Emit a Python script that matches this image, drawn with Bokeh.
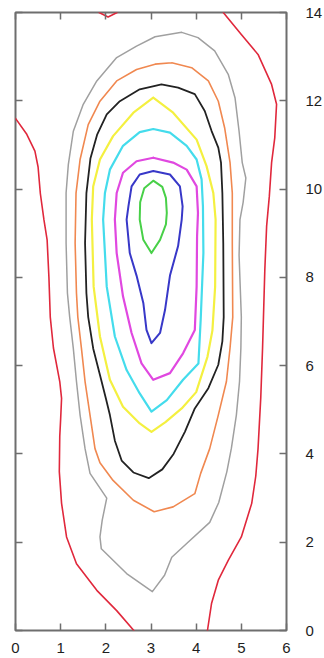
from bokeh.plotting import figure
from bokeh.models import LinearAxis, FixedTicker, Range1d
from bokeh.embed import file_html
from bokeh.resources import INLINE

# ---- axis ticks ----
x_ticks = [0, 1, 2, 3, 4, 5, 6]
y_ticks = [0, 2, 4, 6, 8, 10, 12, 14]

# ---- contour lines (data coordinates) ----
red_top_x = [1.85, 2.05, 2.25]
red_top_y = [14.0, 13.9, 14.0]

red_left_x = [0.0, 0.25, 0.43, 0.5, 0.55, 0.63, 0.7, 0.74, 0.77, 0.84, 0.98, 1.02, 1.0, 0.98,
              0.97, 1.02, 1.13, 1.35, 1.8, 2.24, 2.62]
red_left_y = [11.6, 11.24, 10.86, 10.5, 9.9, 9.3, 8.85, 8.0, 7.1, 6.4, 5.64, 5.26, 4.8, 4.4,
              3.6, 2.88, 2.12, 1.51, 0.91, 0.45, 0.0]

red_right_x = [4.6, 5.0, 5.37, 5.67, 5.78, 5.74, 5.67, 5.62, 5.56, 5.52, 5.49, 5.47, 5.43,
               5.37, 5.32, 5.23, 5.0, 4.71, 4.49, 4.34, 4.25]
red_right_y = [14.0, 13.5, 13.05, 12.37, 11.92, 11.16, 10.6, 9.84, 9.16, 8.17, 7.1, 6.4, 5.27,
               4.12, 3.5, 2.88, 2.12, 1.59, 1.14, 0.61, 0.0]

gray_x = [3.68, 4.04, 4.41, 4.71, 4.86, 4.95, 5.02, 5.1, 5.04, 4.97, 4.95, 5.0, 4.99, 4.96,
          4.89, 4.78, 4.68, 4.5, 4.3, 3.79, 3.46, 3.3, 3.03, 2.46, 1.9, 1.87, 1.92, 2.02,
          1.65, 1.54, 1.43, 1.35, 1.28, 1.2, 1.15, 1.12, 1.12, 1.17, 1.28, 1.5, 1.8, 2.24,
          2.68, 3.09, 3.68]
gray_y = [13.55, 13.43, 13.13, 12.6, 12.07, 11.31, 10.6, 10.25, 9.7, 9.31, 8.5, 7.1, 6.4, 5.64,
          4.88, 4.13, 3.6, 2.9, 2.45, 1.97, 1.66, 1.25, 0.88, 1.29, 1.85, 2.12, 2.5, 3.0,
          3.56, 4.12, 4.88, 5.64, 6.39, 7.1, 7.64, 8.78, 9.91, 10.56, 11.31, 11.92, 12.45, 12.98,
          13.24, 13.45, 13.55]

orange_x = [3.46, 3.9, 4.27, 4.49, 4.63, 4.75, 4.8, 4.8, 4.81, 4.75, 4.67, 4.49, 4.3, 4.1,
            3.97, 3.49, 3.07, 2.61, 2.16, 1.87, 1.76, 1.65, 1.54, 1.46, 1.38, 1.35, 1.32, 1.34,
            1.43, 1.61, 1.87, 2.24, 2.68, 3.09, 3.46]
orange_y = [12.86, 12.75, 12.45, 11.99, 11.39, 10.6, 9.91, 8.78, 7.1, 6.4, 5.64, 4.88, 4.12, 3.56,
            3.1, 2.8, 2.69, 2.95, 3.4, 3.8, 4.12, 4.88, 5.64, 6.39, 7.1, 7.64, 8.78, 9.91,
            10.67, 11.46, 11.99, 12.45, 12.71, 12.83, 12.86]

black_x = [3.23, 3.6, 3.97, 4.19, 4.34, 4.49, 4.55, 4.58, 4.6, 4.61, 4.58, 4.49, 4.27, 3.97,
           3.75, 3.5, 3.25, 2.95, 2.61, 2.35, 2.2, 2.09, 2.0, 1.87, 1.72, 1.61, 1.57, 1.54,
           1.57, 1.66, 1.81, 2.02, 2.31, 2.75, 3.09, 3.23]
black_y = [12.37, 12.3, 12.15, 11.77, 11.32, 10.94, 10.6, 9.91, 8.78, 7.1, 6.55, 6.02, 5.49, 5.03,
           4.5, 4.0, 3.65, 3.45, 3.58, 3.85, 4.3, 4.88, 5.26, 5.79, 6.39, 7.1, 7.64, 8.78,
           9.91, 10.7, 11.24, 11.69, 11.99, 12.26, 12.34, 12.37]

yellow_x = [3.05, 3.49, 4.01, 4.23, 4.38, 4.43, 4.42, 4.36, 4.25, 4.0, 3.68, 3.32, 3.01, 2.75,
            2.38, 2.09, 1.87, 1.73, 1.69, 1.72, 1.87, 2.16, 2.61, 3.05]
yellow_y = [12.07, 11.73, 11.12, 10.52, 9.91, 9.31, 7.79, 6.8, 6.2, 5.4, 5.03, 4.72, 4.5, 4.69,
            5.07, 5.68, 6.66, 7.79, 9.31, 10.06, 10.67, 11.2, 11.73, 12.07]

cyan_x = [3.05, 3.42, 3.79, 4.01, 4.12, 4.15, 4.16, 4.1, 4.05, 3.71, 3.35, 3.01, 2.75, 2.46,
          2.2, 2.02, 1.94, 1.98, 2.09, 2.38, 2.75, 3.05]
cyan_y = [11.36, 11.28, 10.98, 10.67, 10.22, 9.61, 8.55, 7.04, 6.05, 5.68, 5.22, 4.96, 5.37, 5.9,
          6.66, 7.79, 9.31, 9.91, 10.44, 10.98, 11.29, 11.36]

magenta_x = [3.05, 3.49, 3.79, 4.01, 4.04, 4.02, 4.01, 3.97, 3.71, 3.42, 3.05, 2.79, 2.57, 2.38,
             2.24, 2.2, 2.24, 2.38, 2.68, 3.05]
magenta_y = [10.71, 10.6, 10.44, 10.06, 9.46, 8.93, 7.79, 6.81, 6.28, 5.83, 5.68, 6.05, 6.74, 7.57,
             8.55, 9.31, 9.91, 10.37, 10.63, 10.71]

blue_x = [3.05, 3.42, 3.64, 3.7, 3.68, 3.6, 3.42, 3.31, 3.2, 3.01, 2.9, 2.83, 2.68, 2.53, 2.46,
          2.5, 2.57, 2.75, 3.05]
blue_y = [10.41, 10.33, 10.06, 9.61, 9.31, 8.71, 8.04, 7.26, 6.74, 6.51, 6.81, 7.42, 8.04, 8.55,
          9.31, 9.61, 10.06, 10.33, 10.41]

green_x = [3.05, 3.25, 3.33, 3.35, 3.33, 3.2, 3.01, 2.83, 2.75, 2.76, 2.85, 3.05]
green_y = [10.19, 10.05, 9.8, 9.46, 9.2, 8.85, 8.55, 8.85, 9.31, 9.7, 10.02, 10.19]

FRAME = "#6e6e6e"

p = figure(frame_width=271, frame_height=618,
           x_range=Range1d(0, 6), y_range=Range1d(0, 14),
           x_axis_location="below", y_axis_location="right",
           output_backend="svg", toolbar_location=None,
           min_border_left=15, min_border_top=12, min_border_right=2, min_border_bottom=0,
           background_fill_color="white", border_fill_color="white")
p.grid.visible = False
p.outline_line_color = FRAME
p.outline_line_width = 2

# extra tick-only axes on left and top
p.add_layout(LinearAxis(), "left")
p.add_layout(LinearAxis(), "above")

for ax in p.xaxis:
    ax.ticker = FixedTicker(ticks=x_ticks)
for ax in p.yaxis:
    ax.ticker = FixedTicker(ticks=y_ticks)

for ax in list(p.xaxis) + list(p.yaxis):
    ax.axis_line_color = None
    ax.major_tick_in = 7
    ax.major_tick_out = 0
    ax.major_tick_line_color = FRAME
    ax.major_tick_line_width = 1.5
    ax.minor_tick_line_color = None
    ax.major_label_text_font = "Liberation Sans"
    ax.major_label_text_font_size = "15px"
    ax.major_label_text_color = "#1e1e1e"

p.below[0].major_label_standoff = 12
p.right[0].major_label_standoff = 19
# no labels on the tick-only axes
p.left[0].major_label_overrides = {t: "" for t in y_ticks}
p.above[0].major_label_overrides = {t: "" for t in x_ticks}
for ax in (p.left[0], p.above[0]):
    ax.major_label_text_font_size = "1px"
    ax.major_label_standoff = 0

kw = dict(line_join="round", line_cap="round")
p.line(red_top_x, red_top_y, line_color="#e0283c", line_width=1.6, **kw)
p.line(red_left_x, red_left_y, line_color="#e0283c", line_width=1.6, **kw)
p.line(red_right_x, red_right_y, line_color="#e0283c", line_width=1.6, **kw)
p.line(gray_x, gray_y, line_color="#a0a0a0", line_width=1.5, **kw)
p.line(orange_x, orange_y, line_color="#f08850", line_width=1.6, **kw)
p.line(black_x, black_y, line_color="#222222", line_width=1.8, **kw)
p.line(yellow_x, yellow_y, line_color="#f4f040", line_width=2.2, **kw)
p.line(cyan_x, cyan_y, line_color="#44dcec", line_width=2.2, **kw)
p.line(magenta_x, magenta_y, line_color="#e048e0", line_width=2.2, **kw)
p.line(blue_x, blue_y, line_color="#3838c8", line_width=2.0, **kw)
p.line(green_x, green_y, line_color="#48d048", line_width=2.0, **kw)

open("out.html", "w").write(file_html(p, INLINE))
